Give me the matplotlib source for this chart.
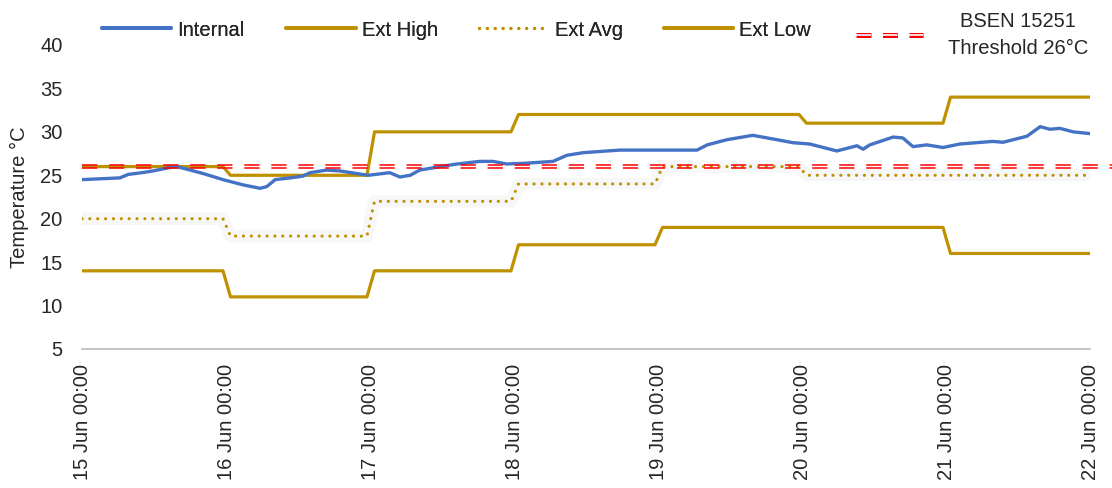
import matplotlib
matplotlib.use("Agg")
import numpy as np
import matplotlib.pyplot as plt
import matplotlib.dates as mdates
import matplotlib.transforms as mtransforms
import matplotlib.patheffects as pe
from matplotlib.lines import Line2D

plt.rcParams["font.family"] = ["Liberation Sans", "DejaVu Sans"]
FS = 14.5
TEXT = "#262626"

# ---- data -------------------------------------------------------------
day_labels = ["15 Jun", "16 Jun", "17 Jun", "18 Jun", "19 Jun", "20 Jun", "21 Jun"]
ext_high = [26, 25, 30, 32, 32, 31, 34]
ext_avg = [20, 18, 22, 24, 26, 25, 25]
ext_low = [14, 11, 14, 17, 19, 19, 16]
threshold = 26

# internal temperature: hours since 15 Jun 00:00 and reading (°C)
internal_hours = [0, 6.3, 7.7, 10, 11.8, 14.7, 15.8, 17.5, 20.2, 23.5, 26.8, 29.7,
                  30.8, 32.2, 34.7, 36.8, 38, 40.8, 43, 47.7, 51.3, 53, 54.7, 56.3,
                  59.7, 62.5, 66.3, 68.5, 70.8, 74.2, 78.5, 80.8, 83.5, 87.5, 89.7,
                  93.5, 102.5, 104.2, 107.5, 111.8, 115.8, 118.5, 121.3, 125.8,
                  129.2, 130.2, 131.3, 135.2, 136.8, 138.5, 140.8, 143.5, 146.3,
                  151.8, 153.5, 157.5, 159.7, 161.3, 163, 165.2, 168]
internal_temp = [24.5, 24.7, 25.1, 25.3, 25.5, 25.9, 26.0, 25.7, 25.2, 24.5, 23.9, 23.5,
                 23.7, 24.5, 24.7, 24.9, 25.3, 25.6, 25.5, 25.0, 25.3, 24.8, 25.0, 25.6,
                 26.0, 26.3, 26.6, 26.6, 26.3, 26.4, 26.6, 27.3, 27.6, 27.8, 27.9,
                 27.9, 27.9, 28.5, 29.1, 29.6, 29.1, 28.75, 28.6, 27.8,
                 28.4, 28.0, 28.5, 29.4, 29.3, 28.3, 28.5, 28.2, 28.6,
                 28.9, 28.8, 29.5, 30.6, 30.3, 30.4, 30.0, 29.8]

start = np.datetime64("2021-06-15T00:00")


def to_time(hours):
    return start + (np.asarray(hours, dtype=float) * 60).astype("timedelta64[m]")


def daily_steps(values):
    """Hold each daily value for the day, with a short ramp at midnight."""
    t, v = [], []
    n = len(values)
    for i, val in enumerate(values):
        t += [24 * i + (0.75 if i else 0.0), 24 * i + (23.5 if i < n - 1 else 24.0)]
        v += [val, val]
    return to_time(t), v


BLUE = "#4472C4"
GOLD = "#BF9000"
RED = "#FF0000"
DOTS = (0, (0.01, 2.45))

fig = plt.figure(figsize=(11.12, 4.88), dpi=100)
ax = fig.add_axes([82 / 1112, 1 - 349 / 488, (1090 - 82) / 1112, (349 - 45) / 488])

t_hi, v_hi = daily_steps(ext_high)
t_av, v_av = daily_steps(ext_avg)
t_lo, v_lo = daily_steps(ext_low)

ax.plot(t_hi, v_hi, color=GOLD, lw=2.3, solid_joinstyle="round", zorder=3)
# faint shading behind the dotted average line
ax.plot(t_av, v_av, color="#808080", lw=9, alpha=0.06, solid_capstyle="butt", zorder=2)
ax.plot(t_av, v_av, color=GOLD, lw=2.3, linestyle=DOTS, dash_capstyle="round", zorder=3)
ax.plot(t_lo, v_lo, color=GOLD, lw=2.3, solid_joinstyle="round", zorder=3)
ax.plot(to_time(internal_hours), internal_temp, color=BLUE, lw=2.4,
        solid_joinstyle="round", solid_capstyle="round", zorder=4)

# threshold drawn as a dashed double line
thr_t = to_time([0, 173])
for dy in (-1.05, 1.05):
    tr = mtransforms.offset_copy(ax.transData, fig=fig, x=0, y=dy, units="points")
    ax.plot(thr_t, [threshold, threshold], color=RED, lw=1.1, dashes=(10, 7.7),
            transform=tr, clip_on=False, zorder=5)

ax.set_ylim(5, 40)
ax.set_yticks(range(5, 41, 5))
ax.set_xlim(to_time(0)[()], to_time(168)[()])
ax.xaxis.set_major_locator(mdates.DayLocator())
ax.xaxis.set_major_formatter(mdates.DateFormatter("%d %b %H:%M"))

for s in ("top", "right", "left"):
    ax.spines[s].set_visible(False)
ax.spines["bottom"].set_color("#BFBFBF")
ax.spines["bottom"].set_linewidth(1.3)
ax.tick_params(axis="both", length=0, labelsize=FS, colors=TEXT)
ax.tick_params(axis="y", pad=14)
ax.tick_params(axis="x", pad=11)
for lbl in ax.get_xticklabels():
    lbl.set_rotation(90)
    lbl.set_va("top")
    lbl.set_ha("center")

ax.set_ylabel("Temperature °C", fontsize=FS, color=TEXT, labelpad=8)

line_handles = [
    Line2D([], [], color=BLUE, lw=2.8, solid_capstyle="round"),
    Line2D([], [], color=GOLD, lw=2.8, solid_capstyle="round"),
    Line2D([], [], color=GOLD, lw=2.3, linestyle=DOTS, dash_capstyle="round"),
    Line2D([], [], color=GOLD, lw=2.8, solid_capstyle="round"),
]
line_labels = ["Internal", "Ext High", "Ext Avg", "Ext Low"]
leg1 = fig.legend(line_handles, line_labels, loc="center left",
                  bbox_to_anchor=(102 / 1112, 1 - 30 / 488), ncol=4, frameon=False,
                  fontsize=FS, handlelength=3.45, handletextpad=0.3, columnspacing=2.05,
                  borderpad=0, borderaxespad=0)
for txt in leg1.get_texts():
    txt.set_color(TEXT)

thr_handle = Line2D([], [], color=RED, lw=3.6, dashes=(3.0, 2.3),
                    path_effects=[pe.Stroke(linewidth=3.6, foreground=RED),
                                  pe.Stroke(linewidth=1.2, foreground="white")])
leg2 = fig.legend([thr_handle], ["BSEN 15251\nThreshold 26°C"], loc="center left",
                  bbox_to_anchor=(856 / 1112, 1 - 35 / 488), frameon=False, fontsize=FS,
                  handlelength=3.35, handletextpad=1.2, borderpad=0, borderaxespad=0)
t2 = leg2.get_texts()[0]
t2.set_color(TEXT)
t2.set_multialignment("center")
t2.set_linespacing(1.5)
fig.add_artist(leg1)

fig.savefig("out.png", dpi=100)
